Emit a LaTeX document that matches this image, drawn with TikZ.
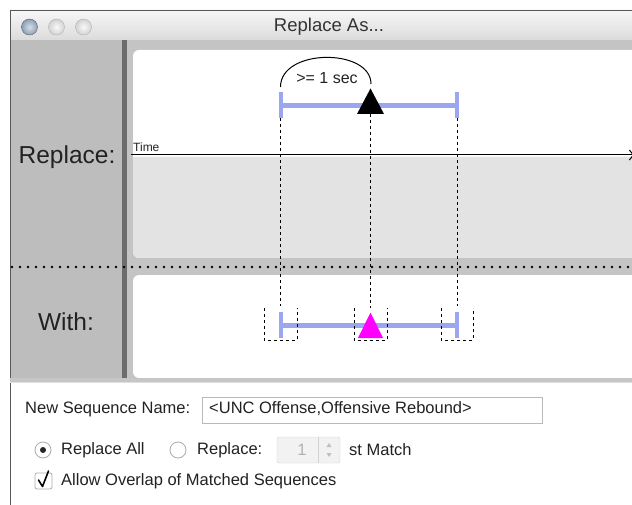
\documentclass[tikz,border=0pt]{standalone}
\usepackage{fontspec}
\setmainfont{Liberation Sans}
\usepackage{tikz}
\usetikzlibrary{arrows.meta, positioning, calc}

\definecolor{fondgris}{RGB}{189,189,189}
\definecolor{cadre}{RGB}{196,196,196}
\definecolor{separateur}{RGB}{108,108,108}
\definecolor{zonegrise}{RGB}{227,227,227}
\definecolor{bleuint}{RGB}{154,166,240}
\definecolor{rose}{RGB}{255,0,255}
\definecolor{voyant}{RGB}{140,160,185}
\definecolor{texte}{RGB}{34,34,34}

\tikzset{
  barre/.style={line width=5pt, bleuint},
  borne/.style={line width=4pt, bleuint},
  guide/.style={line width=0.7pt, dash pattern=on 3pt off 3pt},
  etiquette/.style={font=\fontsize{16.5}{18}\selectfont, anchor=west, inner sep=0pt, text=texte},
  grand/.style={font=\fontsize{24.5}{26}\selectfont, text=texte},
  radio/.style={draw=gray!65, fill=white, line width=0.8pt}
}

\begin{document}
\begin{tikzpicture}[x=1pt, y=-1pt]
  \useasboundingbox (0,0) rectangle (632,505);
  \fill[white] (0,0) rectangle (632,505);

  % Barre de titre
  \shade[top color=gray!6, bottom color=gray!28] (10,10) rectangle (632,40);
  \draw[gray!70!black] (10.5,505) -- (10.5,10.5) -- (632,10.5);
  \draw[gray!60] (11,40) -- (632,40);
  \shadedraw[draw=gray!75!black, inner color=voyant!35, outer color=voyant] (29.5,27) circle (8pt);
  \foreach \x in {56.5,83.5}
    \shadedraw[draw=gray!60, inner color=gray!5, outer color=gray!35] (\x,27) circle (8pt);
  \node[font=\fontsize{18.5}{20}\selectfont, text=black!80] (titre) at (329,27) {Replace As...};

  % Fonds gris et separateur
  \fill[cadre] (11,40.5) rectangle (632,379);
  \fill[fondgris] (11,40.5) rectangle (122,379);
  \fill[separateur] (122,40.5) rectangle (127,379);

  % Panneau du haut
  \fill[white, rounded corners=6pt] (133,50) rectangle (660,258);
  \fill[zonegrise] (133,157) [rounded corners=6pt] -- (133,258) -- (660,258) [sharp corners] -- (660,157) -- cycle;
  \draw[line width=1pt, -{Straight Barb[length=4pt, width=10pt]}] (131,155) -- (634,155);
  \node[font=\fontsize{12}{12}\selectfont, anchor=south west, inner sep=0pt, text=texte] (temps) at (133,152) {Time};

  % Pointilles entre les panneaux
  \draw[line width=2.8pt, dash pattern=on 0pt off 8pt, line cap=round] (12,267) -- (632,267);

  % Panneau du bas
  \fill[white, rounded corners=6pt] (133,275) rectangle (660,378);
  \fill[gray!45] (10,378) rectangle (632,382);
  \draw[gray!25] (10,382.5) -- (632,382.5);

  \node[grand] (remplacer) at (67,157) {Replace:};
  \node[grand] (avec) at (66,322) {With:};

  % Intervalle du haut
  \coordinate (debutA) at (280.5,105.5);
  \coordinate (finA) at (457,105.5);
  \draw[barre] (debutA) -- (finA);
  \draw[borne] ($(debutA)+(0,-13.5)$) -- ($(debutA)+(0,13)$);
  \draw[borne] ($(finA)+(0,-13.5)$) -- ($(finA)+(0,13)$);
  \fill (370.5,88.5) -- (357,114) -- (384,114) -- cycle;
  \draw[line width=1pt] (280.5,87) .. controls (280.5,48) and (371,48) .. (371,84);
  \node[font=\fontsize{16}{16}\selectfont, text=texte] (duree) at (327,78) {>= 1 sec};

  % Intervalle du bas
  \coordinate (debutB) at (280.5,325);
  \coordinate (finB) at (457,325);
  \draw[barre] (debutB) -- (finB);
  \draw[borne] ($(debutB)+(0,-13)$) -- ($(debutB)+(0,13)$);
  \draw[borne] ($(finB)+(0,-13)$) -- ($(finB)+(0,13)$);
  \fill[rose] (370.5,312.5) -- (358,338) -- (383,338) -- cycle;

  % Reperes en tirets
  \foreach \x/\ya/\yb in {280.7/118/306, 370.7/114/308, 457.7/118/306}
    \draw[guide] (\x,\ya) -- (\x,\yb);
  \foreach \xa/\xb in {264/297, 354/387, 441/473}
    \draw[guide] (\xa,308) -- (\xa,340) -- (\xb,340) -- (\xb,308);

  % Options en bas
  \node[etiquette] (nomlabel) at (25,409) {New Sequence Name:};
  \draw[gray!55, fill=white] (202,397) rectangle (542,423);
  \node[etiquette] (nom) at (209,409) {<UNC Offense,Offensive Rebound>};

  \draw[radio] (43,450) circle (8pt);
  \fill[black!85] (43,450) circle (3pt);
  \node[etiquette] (tout) at (61,450) {Replace All};
  \draw[radio] (178,450) circle (8pt);
  \node[etiquette] (partiel) at (197,450) {Replace:};
  \draw[gray!35, fill=gray!10, rounded corners=2pt] (277,437) rectangle (340,463);
  \draw[gray!35] (318,437) -- (318,463);
  \node[font=\fontsize{16.5}{18}\selectfont, text=gray!60] (rang) at (302,450) {1};
  \fill[gray!50] (329,443) -- (326.5,447) -- (331.5,447) -- cycle;
  \fill[gray!50] (329,457) -- (326.5,453) -- (331.5,453) -- cycle;
  \node[etiquette] (match) at (349,450) {st Match};

  \draw[gray!65, fill=white, rounded corners=2pt, line width=0.8pt] (35,473) rectangle (52,489);
  \draw[line width=1.6pt, line cap=round, line join=round] (38.5,480) -- (42.5,486.5) -- (48.5,471);
  \node[etiquette] (chevauche) at (61,481) {Allow Overlap of Matched Sequences};
\end{tikzpicture}
\end{document}
